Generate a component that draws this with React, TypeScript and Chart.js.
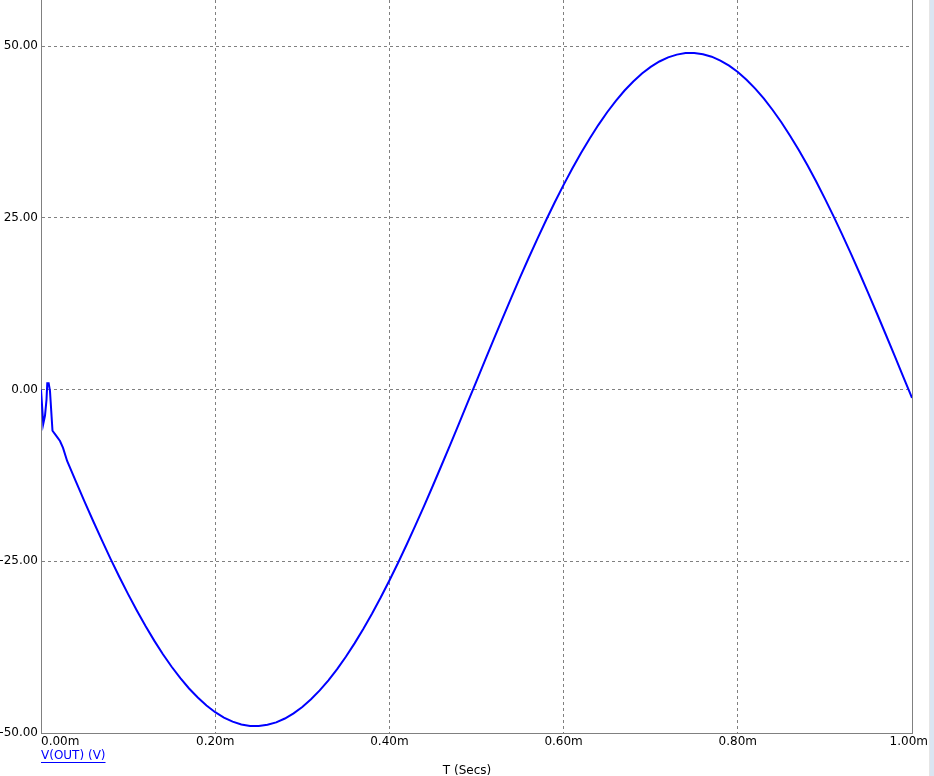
import React, { useEffect, useRef } from "react";
import { Chart, registerables } from "chart.js";

Chart.register(...registerables);

// Time in milliseconds
const timeMs = [
  0, 0.0008, 0.0026, 0.0046, 0.0063, 0.0072, 0.0088, 0.0103, 0.0132, 0.0161,
  0.0184, 0.0218, 0.0253, 0.03,
  0.04, 0.05, 0.06, 0.07, 0.08, 0.09, 0.1, 0.11, 0.12, 0.13, 0.14, 0.15, 0.16,
  0.17, 0.18, 0.19, 0.2, 0.21, 0.22, 0.23, 0.24, 0.25, 0.26, 0.27, 0.28, 0.29,
  0.3, 0.31, 0.32, 0.33, 0.34, 0.35, 0.36, 0.37, 0.38, 0.39, 0.4, 0.41, 0.42,
  0.43, 0.44, 0.45, 0.46, 0.47, 0.48, 0.49, 0.5, 0.51, 0.52, 0.53, 0.54, 0.55,
  0.56, 0.57, 0.58, 0.59, 0.6, 0.61, 0.62, 0.63, 0.64, 0.65, 0.66, 0.67, 0.68,
  0.69, 0.7, 0.71, 0.72, 0.73, 0.74, 0.75, 0.76, 0.77, 0.78, 0.79, 0.8, 0.81,
  0.82, 0.83, 0.84, 0.85, 0.86, 0.87, 0.88, 0.89, 0.9, 0.91, 0.92, 0.93, 0.94,
  0.95, 0.96, 0.97, 0.98, 0.99, 1.0,
];

// V(OUT) in volts
const vOut = [
  0, 0, -5.0, -3.8, -1.5, 0.9, 0.9, -0.2, -6.0, -6.5,
  -6.9, -7.5, -8.5, -10.4,
  -13.37, -16.31, -19.18, -21.97, -24.68, -27.29, -29.79, -32.17, -34.43, -36.55, -38.53, -40.36, -42.02,
  -43.52, -44.84, -46.0, -46.97, -47.75, -48.35, -48.75, -48.97, -48.98, -48.81, -48.45, -47.89, -47.14,
  -46.21, -45.09, -43.8, -42.33, -40.69, -38.9, -36.95, -34.86, -32.63, -30.28, -27.79, -25.21, -22.52,
  -19.74, -16.89, -13.97, -10.99, -7.97, -4.92, -1.85, 1.23, 4.3, 7.36, 10.39, 13.37, 16.31,
  19.18, 21.97, 24.68, 27.29, 29.79, 32.17, 34.43, 36.55, 38.53, 40.36, 42.02, 43.52, 44.84,
  46.0, 46.97, 47.75, 48.35, 48.75, 48.97, 48.98, 48.81, 48.45, 47.89, 47.14, 46.21, 45.09,
  43.8, 42.33, 40.69, 38.9, 36.95, 34.86, 32.63, 30.28, 27.79, 25.21, 22.52, 19.74, 16.89,
  13.97, 10.99, 7.97, 4.92, 1.85, -1.23,
];

const xTicks = [0, 0.2, 0.4, 0.6, 0.8, 1.0];
const xTickLabels = ["0.00m", "0.20m", "0.40m", "0.60m", "0.80m", "1.00m"];
const yTicks = [-50, -25, 0, 25, 50];
const yTickLabels = ["-50.00", "-25.00", "0.00", "25.00", "50.00"];
const seriesName = "V(OUT) (V)";
const xTitle = "T (Secs)";

const FONT = "'DejaVu Sans', sans-serif";
const GRID = "#808080";

export default function App() {
  const canvasRef = useRef<HTMLCanvasElement | null>(null);

  useEffect(() => {
    const canvas = canvasRef.current;
    if (!canvas) return;

    const labelsPlugin = {
      id: "probeLabels",
      afterDraw(chart: any) {
        const ctx = chart.ctx;
        const xs = chart.scales.x;
        const area = chart.chartArea;
        ctx.save();
        ctx.font = `12px ${FONT}`;
        ctx.fillStyle = "#000000";
        ctx.textBaseline = "top";
        const labelY = area.bottom + 3;
        xTicks.forEach((v, i) => {
          const px = xs.getPixelForValue(v);
          const text = xTickLabels[i];
          const w = ctx.measureText(text).width;
          let left = i === 0 ? px : px - w / 2;
          if (left + w > chart.width - 6) left = chart.width - 6 - w;
          ctx.textAlign = "left";
          ctx.fillText(text, left, labelY);
        });
        // legend entry
        ctx.fillStyle = "#0000ff";
        ctx.strokeStyle = "#0000ff";
        ctx.textAlign = "left";
        const lx = area.left;
        const ly = area.bottom + 17;
        ctx.fillText(seriesName, lx, ly);
        const lw = ctx.measureText(seriesName).width;
        ctx.lineWidth = 1;
        ctx.beginPath();
        ctx.moveTo(lx, ly + 12.5);
        ctx.lineTo(lx + lw, ly + 12.5);
        ctx.stroke();
        // axis title
        ctx.fillStyle = "#000000";
        ctx.textAlign = "center";
        ctx.fillText(xTitle, chart.width / 2, area.bottom + 32);
        ctx.restore();
      },
    };

    const chart = new Chart(canvas, {
      type: "line",
      data: {
        datasets: [
          {
            label: seriesName,
            data: timeMs.map((t, i) => ({ x: t, y: vOut[i] })),
            borderColor: "#0000ff",
            backgroundColor: "#0000ff",
            borderWidth: 2,
            pointRadius: 0,
            tension: 0,
            fill: false,
          },
        ],
      },
      options: {
        responsive: false,
        animation: false,
        devicePixelRatio: 1,
        layout: { padding: { left: 0, top: 0, right: 0, bottom: 0 } },
        plugins: {
          legend: { display: false },
          tooltip: { enabled: false },
        },
        scales: {
          x: {
            type: "linear",
            position: "bottom",
            min: 0,
            max: 1.0,
            afterBuildTicks: (axis: any) => {
              axis.ticks = xTicks.map((v) => ({ value: v }));
            },
            afterFit: (scale: any) => {
              scale.height = 43;
              scale.paddingLeft = 0;
              scale.paddingRight = 0;
            },
            ticks: { display: false },
            grid: {
              display: true,
              color: GRID,
              lineWidth: 1,
              drawTicks: false,
            },
            border: { display: true, color: GRID, width: 1, dash: [3, 3] },
          },
          y: {
            type: "linear",
            position: "left",
            min: -50,
            max: 56.7,
            afterBuildTicks: (axis: any) => {
              axis.ticks = yTicks.map((v) => ({ value: v }));
            },
            afterFit: (scale: any) => {
              scale.width = 41;
              scale.paddingTop = 0;
              scale.paddingBottom = 0;
            },
            ticks: {
              display: true,
              padding: 3,
              color: "#000000",
              font: { family: FONT, size: 12 },
              callback: (value: any) => {
                const idx = yTicks.indexOf(Number(value));
                return idx >= 0 ? yTickLabels[idx] : "";
              },
            },
            grid: {
              display: true,
              color: GRID,
              lineWidth: 1,
              drawTicks: false,
            },
            border: { display: true, color: GRID, width: 1, dash: [3, 3] },
          },
          yRight: {
            type: "linear",
            position: "right",
            min: -50,
            max: 56.7,
            afterFit: (scale: any) => {
              scale.width = 22;
              scale.paddingTop = 0;
              scale.paddingBottom = 0;
            },
            ticks: { display: false },
            grid: { display: false, drawTicks: false },
            border: { display: true, color: GRID, width: 1 },
          },
        },
      },
      plugins: [labelsPlugin],
    } as any);

    return () => {
      chart.destroy();
    };
  }, []);

  return (
    <div
      style={{
        position: "fixed",
        left: 0,
        top: 0,
        width: 934,
        height: 776,
        background: "#ffffff",
        overflow: "hidden",
      }}
    >
      <canvas ref={canvasRef} width={934} height={776} style={{ display: "block" }} />
      <div style={{ position: "absolute", left: 929, top: 0, width: 1, height: 776, background: "#e6e6e6" }} />
      <div style={{ position: "absolute", left: 930, top: 0, width: 4, height: 776, background: "#dae5f2" }} />
    </div>
  );
}
